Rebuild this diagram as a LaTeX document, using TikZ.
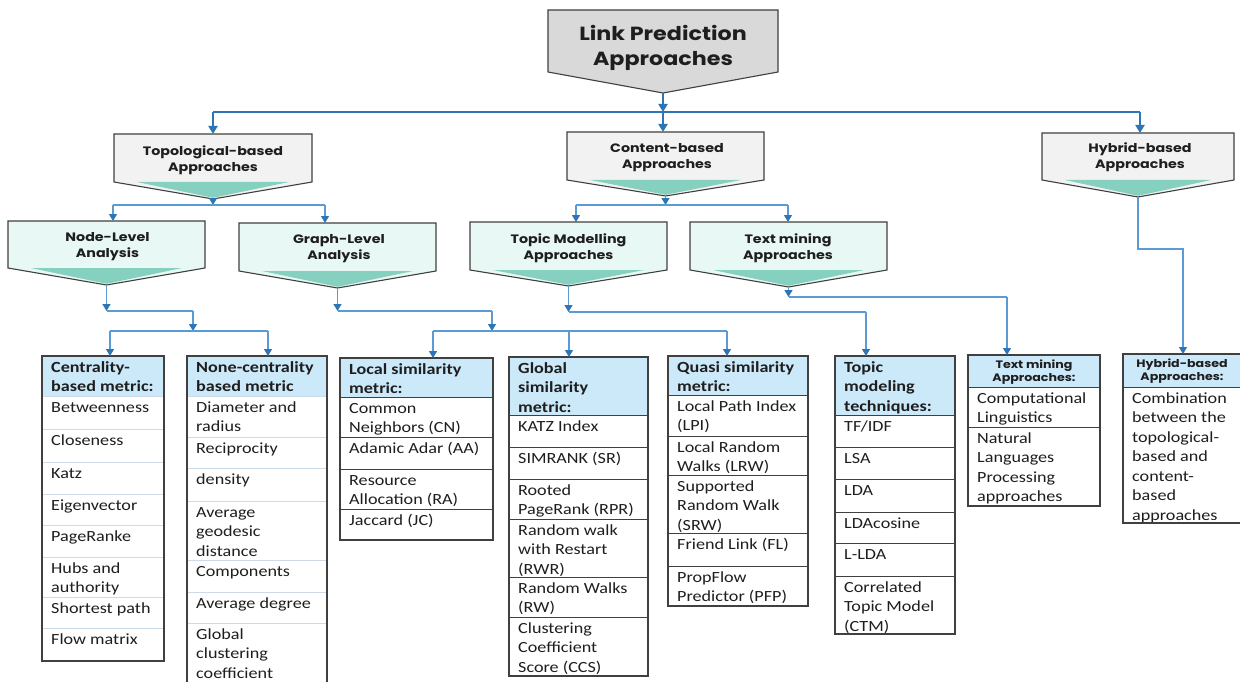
\documentclass[tikz,border=0pt]{standalone}
\usepackage{fontspec}
\usetikzlibrary{arrows.meta}

\newfontfamily\gothic[FakeStretch=1.17]{Poppins}
\newfontfamily\calib[FakeStretch=1.17]{Carlito}

\newcommand\toplabelfont{\gothic\bfseries\fontsize{19}{25}\selectfont}
\newcommand\midlabelfont{\gothic\bfseries\fontsize{12.2}{16.5}\selectfont}
\newcommand\smalllabelfont{\gothic\bfseries\fontsize{10.8}{13.5}\selectfont}
\newcommand\cellfont{\calib\fontsize{15.5}{19.5}\selectfont}

\definecolor{linkblue}{RGB}{46,117,182}
\definecolor{wireblue}{RGB}{91,155,213}
\definecolor{edgegray}{RGB}{64,64,64}
\definecolor{boxgray}{RGB}{217,217,217}
\definecolor{boxlight}{RGB}{242,242,242}
\definecolor{boxmint}{RGB}{232,248,244}
\definecolor{mintband}{RGB}{134,208,191}
\definecolor{headblue}{RGB}{204,233,250}
\definecolor{seplight}{RGB}{205,218,232}
\definecolor{inkgray}{RGB}{30,30,30}

\tikzset{
  rectpart/.style={rectangle, inner sep=0pt, outer sep=0pt},
  chevedge/.style={draw=edgegray, line width=1.1pt, line join=miter},
  boxlabel/.style={anchor=north, align=center, inner sep=0pt, text=inkgray},
  bus/.style={draw=linkblue, line width=2.4pt},
  busarrow/.style={bus, -{Triangle[width=9pt,length=8pt]}},
  wire/.style={draw=wireblue, line width=1.3pt},
  wirearrow/.style={wire, -{Triangle[width=8pt,length=7pt,color=linkblue]}},
  cellbox/.style={rectangle, inner sep=0pt, outer sep=0pt, line width=1pt},
  celltext/.style={anchor=north west, inner sep=0pt, align=left, font=\cellfont, text=inkgray},
  headtext/.style={celltext, font=\cellfont\bfseries},
  smallhead/.style={anchor=north, inner sep=0pt, align=center, font=\smalllabelfont, text=inkgray},
  tabframe/.style={draw=edgegray, line width=1.1pt},
}

% pentagon box: name, left, right, top, shoulder, tip, fill, band (1 = mint band)
\newcommand\chevbox[8]{%
  \node[rectpart, minimum width={#3-#2}, minimum height={#5-#4}] (#1) at ({(#2+#3)/2},{(#4+#5)/2}) {};
  \coordinate (#1-tip) at ({(#2+#3)/2},#6);
  \fill[#7] (#1.north west) -- (#1.north east) -- (#1.south east) -- (#1-tip) -- (#1.south west) -- cycle;
  \ifnum#8=1
    \fill[mintband] ([xshift=23pt]#1.south west) -- ([xshift=-23pt]#1.south east) -- ([yshift=1.2pt]#1-tip) -- cycle;
  \fi
  \draw[chevedge] (#1.north west) -- (#1.north east) -- (#1.south east) -- (#1-tip) -- (#1.south west) -- cycle;
}

% table cell: name, left, right, top, bottom, rule colour, text
\newcommand\tabcell[7]{%
  \node[cellbox, draw=#6, minimum width={#3-#2}, minimum height={#5-#4}] (#1) at ({(#2+#3)/2},{(#4+#5)/2}) {};
  \node[celltext] (#1-t) at ([xshift=9pt,yshift=-2.35pt]#1.north west) {\strut#7};
}

% table heading: name, left, right, top, bottom, text
\newcommand\tabhead[6]{%
  \node[cellbox, draw=edgegray, fill=headblue, minimum width={#3-#2}, minimum height={#5-#4}] (#1) at ({(#2+#3)/2},{(#4+#5)/2}) {};
  \node[headtext] (#1-t) at ([xshift=9pt,yshift=-2.35pt]#1.north west) {\strut#6};
}

% table heading in the box typeface: name, left, right, top, bottom, text
\newcommand\tabheadsmall[6]{%
  \node[cellbox, draw=edgegray, fill=headblue, minimum width={#3-#2}, minimum height={#5-#4}] (#1) at ({(#2+#3)/2},{(#4+#5)/2}) {};
  \node[smallhead] (#1-t) at ([yshift=-3.55pt]#1.north) {\strut#6};
}

\begin{document}
\begin{tikzpicture}[x=1pt,y=-1pt]
\useasboundingbox (0,0) rectangle (1240,682);
\fill[white] (0,0) rectangle (1240,682);

% ---------- approach boxes ----------
\chevbox{lp}{548}{778}{10}{72}{93}{boxgray}{0}
\node[boxlabel, font=\toplabelfont] (lp-t) at (663,22.5) {\strut Link Prediction\\Approaches};

\chevbox{topo}{114}{312}{134}{182}{199}{boxlight}{1}
\node[boxlabel, font=\midlabelfont] (topo-t) at (213,143.5) {\strut Topological-based\\Approaches};

\chevbox{content}{567}{764}{132}{180}{196}{boxlight}{1}
\node[boxlabel, font=\midlabelfont] (content-t) at (667,140.5) {\strut Content-based\\Approaches};

\chevbox{hybrid}{1042}{1234}{133}{180}{197}{boxlight}{1}
\node[boxlabel, font=\midlabelfont] (hybrid-t) at (1140,140.5) {\strut Hybrid-based\\Approaches};

\chevbox{nodelvl}{8}{205}{221}{268}{285}{boxmint}{1}
\node[boxlabel, font=\midlabelfont] (nodelvl-t) at (107.5,229.5) {\strut Node-Level\\Analysis};

\chevbox{graphlvl}{239}{436}{223}{271}{288}{boxmint}{1}
\node[boxlabel, font=\midlabelfont] (graphlvl-t) at (339,231.5) {\strut Graph-Level\\Analysis};

\chevbox{topicm}{470}{667}{222}{270}{286}{boxmint}{1}
\node[boxlabel, font=\midlabelfont] (topicm-t) at (568.5,231.5) {\strut Topic Modelling\\Approaches};

\chevbox{textm}{690}{887}{222}{270}{287}{boxmint}{1}
\node[boxlabel, font=\midlabelfont] (textm-t) at (788,231.5) {\strut Text mining\\Approaches};

% ---------- metric tables ----------
% centrality-based metrics
\tabhead{cent0}{42}{164}{356}{396}{Centrality-\\based metric:}
\tabcell{cent1}{42}{164}{396}{429}{seplight}{Betweenness}
\tabcell{cent2}{42}{164}{429}{462}{seplight}{Closeness}
\tabcell{cent3}{42}{164}{462}{494}{seplight}{Katz}
\tabcell{cent4}{42}{164}{494}{525}{seplight}{Eigenvector}
\tabcell{cent5}{42}{164}{525}{557}{seplight}{PageRanke}
\tabcell{cent6}{42}{164}{557}{597}{seplight}{Hubs and\\authority}
\tabcell{cent7}{42}{164}{597}{628}{seplight}{Shortest path}
\tabcell{cent8}{42}{164}{628}{661}{seplight}{Flow matrix}
\draw[tabframe] (cent0.north west) rectangle (cent8.south east);

% none-centrality metrics
\tabhead{ncent0}{187}{327}{356}{396}{None-centrality\\based metric}
\tabcell{ncent1}{187}{327}{396}{437}{seplight}{Diameter and\\radius}
\tabcell{ncent2}{187}{327}{437}{468}{seplight}{Reciprocity}
\tabcell{ncent3}{187}{327}{468}{501}{seplight}{density}
\tabcell{ncent4}{187}{327}{501}{560}{seplight}{Average\\geodesic\\distance}
\tabcell{ncent5}{187}{327}{560}{592}{seplight}{Components}
\tabcell{ncent6}{187}{327}{592}{623}{seplight}{Average degree}
\tabcell{ncent7}{187}{327}{623}{690}{seplight}{Global\\clustering\\coefficient}
\draw[tabframe] (ncent0.north west) rectangle (ncent7.south east);

% local similarity
\tabhead{loc0}{340}{493}{358}{397}{Local similarity\\metric:}
\tabcell{loc1}{340}{493}{397}{437}{edgegray}{Common\\Neighbors (CN)}
\tabcell{loc2}{340}{493}{437}{469}{edgegray}{Adamic Adar (AA)}
\tabcell{loc3}{340}{493}{469}{509}{edgegray}{Resource\\Allocation (RA)}
\tabcell{loc4}{340}{493}{509}{540}{edgegray}{Jaccard (JC)}
\draw[tabframe] (loc0.north west) rectangle (loc4.south east);

% global similarity
\tabhead{glob0}{509}{648}{357}{415}{Global\\similarity\\metric:}
\tabcell{glob1}{509}{648}{415}{447}{edgegray}{KATZ Index}
\tabcell{glob2}{509}{648}{447}{479}{edgegray}{SIMRANK (SR)}
\tabcell{glob3}{509}{648}{479}{519}{edgegray}{Rooted\\PageRank (RPR)}
\tabcell{glob4}{509}{648}{519}{577}{edgegray}{Random walk\\with Restart\\(RWR)}
\tabcell{glob5}{509}{648}{577}{617}{edgegray}{Random Walks\\(RW)}
\tabcell{glob6}{509}{648}{617}{676}{edgegray}{Clustering\\Coefficient\\Score (CCS)}
\draw[tabframe] (glob0.north west) rectangle (glob6.south east);

% quasi similarity
\tabhead{quasi0}{668}{808}{356}{395}{Quasi similarity\\metric:}
\tabcell{quasi1}{668}{808}{395}{436}{edgegray}{Local Path Index\\(LPI)}
\tabcell{quasi2}{668}{808}{436}{475}{edgegray}{Local Random\\Walks (LRW)}
\tabcell{quasi3}{668}{808}{475}{533}{edgegray}{Supported\\Random Walk\\(SRW)}
\tabcell{quasi4}{668}{808}{533}{566}{edgegray}{Friend Link (FL)}
\tabcell{quasi5}{668}{808}{566}{606}{edgegray}{PropFlow\\Predictor (PFP)}
\draw[tabframe] (quasi0.north west) rectangle (quasi5.south east);

% topic modeling techniques
\tabhead{tmod0}{835}{955}{356}{415}{Topic\\modeling\\techniques:}
\tabcell{tmod1}{835}{955}{415}{447}{edgegray}{TF/IDF}
\tabcell{tmod2}{835}{955}{447}{479}{edgegray}{LSA}
\tabcell{tmod3}{835}{955}{479}{512}{edgegray}{LDA}
\tabcell{tmod4}{835}{955}{512}{543}{edgegray}{LDAcosine}
\tabcell{tmod5}{835}{955}{543}{576}{edgegray}{L-LDA}
\tabcell{tmod6}{835}{955}{576}{634}{edgegray}{Correlated\\Topic Model\\(CTM)}
\draw[tabframe] (tmod0.north west) rectangle (tmod6.south east);

% text mining approaches
\tabheadsmall{tmin0}{968}{1100}{355}{387}{Text mining\\Approaches:}
\tabcell{tmin1}{968}{1100}{387}{427}{edgegray}{Computational\\Linguistics}
\tabcell{tmin2}{968}{1100}{427}{506}{edgegray}{Natural\\Languages\\Processing\\approaches}
\draw[tabframe] (tmin0.north west) rectangle (tmin2.south east);

% hybrid-based approaches
\tabheadsmall{hyb0}{1123}{1241}{354}{387}{Hybrid-based\\Approaches:}
\tabcell{hyb1}{1123}{1241}{387}{523}{edgegray}{Combination\\between the\\topological-\\based and\\content-\\based\\approaches}
\draw[tabframe] (hyb0.north west) rectangle (hyb1.south east);

% ---------- connectors ----------
\coordinate (bus)  at (663,112);
\coordinate (busW) at (213,112);
\coordinate (busE) at (1140,112);
\draw[busarrow] (lp-tip) -- (bus);
\draw[bus] (busW) -- (busE);
\draw[busarrow] (busW) -- (busW |- topo.north);
\draw[busarrow] (bus) -- (bus |- content.north);
\draw[busarrow] (busE) -- (busE |- hybrid.north);

\coordinate (tsp)  at (213,205);
\coordinate (tspW) at (113,205);
\coordinate (tspE) at (325,205);
\draw[wirearrow] (topo-tip) -- (tsp);
\draw[wire] (tspW) -- (tspE);
\draw[wirearrow] (tspW) -- (tspW |- nodelvl.north);
\draw[wirearrow] (tspE) -- (tspE |- graphlvl.north);

\coordinate (csp)  at (665.5,205);
\coordinate (cspW) at (576,205);
\coordinate (cspE) at (788,205);
\draw[wirearrow] (content-tip) -- (csp);
\draw[wire] (cspW) -- (cspE);
\draw[wirearrow] (cspW) -- (cspW |- topicm.north);
\draw[wirearrow] (cspE) -- (cspE |- textm.north);

\coordinate (nsp)   at (106.5,311);
\coordinate (nspE)  at (193,311);
\coordinate (nsp2)  at (193,331);
\coordinate (nsp2W) at (110,331);
\coordinate (nsp2E) at (268,331);
\draw[wirearrow] (nodelvl-tip) -- (nsp);
\draw[wire] (nsp) -- (nspE);
\draw[wirearrow] (nspE) -- (nsp2);
\draw[wire] (nsp2W) -- (nsp2E);
\draw[wirearrow] (nsp2W) -- (nsp2W |- cent0.north);
\draw[wirearrow] (nsp2E) -- (nsp2E |- ncent0.north);

\coordinate (gsp)   at (337.5,311);
\coordinate (gspE)  at (492,311);
\coordinate (gsp2)  at (492,331);
\coordinate (gsp2W) at (433,331);
\coordinate (gsp2M) at (569,331);
\coordinate (gsp2E) at (727,331);
\draw[wirearrow] (graphlvl-tip) -- (gsp);
\draw[wire] (gsp) -- (gspE);
\draw[wirearrow] (gspE) -- (gsp2);
\draw[wire] (gsp2W) -- (gsp2E);
\draw[wirearrow] (gsp2W) -- (gsp2W |- loc0.north);
\draw[wirearrow] (gsp2M) -- (gsp2M |- glob0.north);
\draw[wirearrow] (gsp2E) -- (gsp2E |- quasi0.north);

\coordinate (tpsp)  at (568.5,312);
\coordinate (tpspE) at (866,312);
\draw[wirearrow] (topicm-tip) -- (tpsp);
\draw[wire] (tpsp) -- (tpspE);
\draw[wirearrow] (tpspE) -- (tpspE |- tmod0.north);

\coordinate (txsp)  at (788.5,297);
\coordinate (txspE) at (1007,297);
\draw[wirearrow] (textm-tip) -- (txsp);
\draw[wire] (txsp) -- (txspE);
\draw[wirearrow] (txspE) -- (txspE |- tmin0.north);

\coordinate (hsp)  at (1138,249);
\coordinate (hspE) at (1183,249);
\draw[wirearrow] (hybrid-tip) -- (hsp) -- (hspE) -- (hspE |- hyb0.north);
\end{tikzpicture}
\end{document}
